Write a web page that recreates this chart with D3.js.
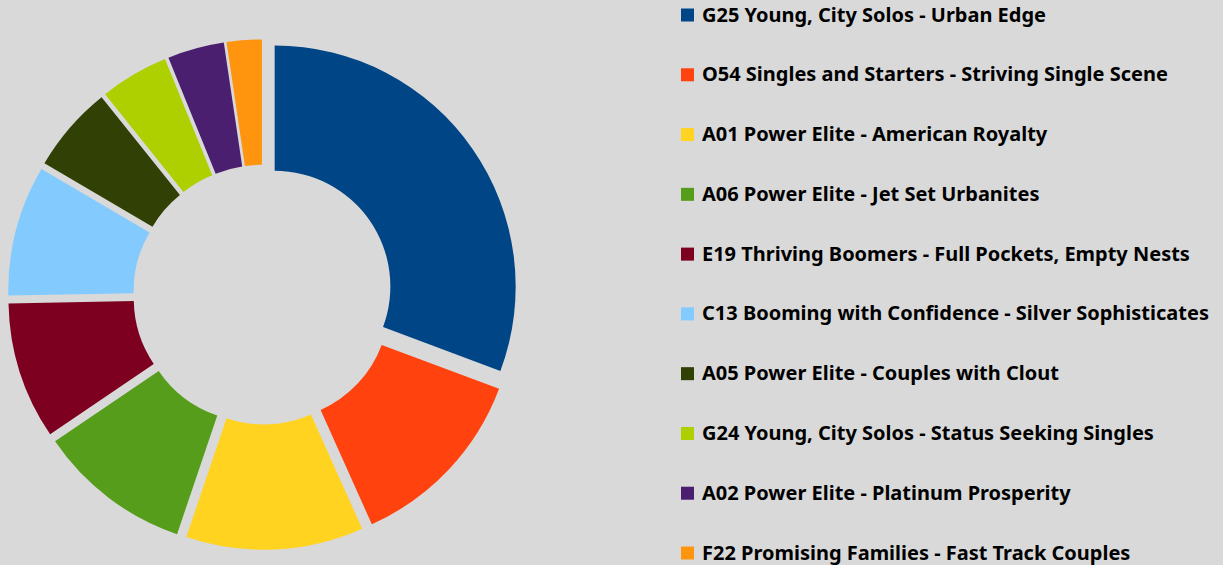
<!DOCTYPE html>
<html>
<head>
<meta charset="utf-8">
<script src="https://cdn.jsdelivr.net/npm/d3@7"></script>
<style>
  html, body { margin: 0; padding: 0; background: #d9d9d9; }
  svg { display: block; }
</style>
</head>
<body>
<svg id="chart" width="1223" height="565"></svg>
<script>
const categories = [
  "G25 Young, City Solos - Urban Edge",
  "O54 Singles and Starters - Striving Single Scene",
  "A01 Power Elite - American Royalty",
  "A06 Power Elite - Jet Set Urbanites",
  "E19 Thriving Boomers - Full Pockets, Empty Nests",
  "C13 Booming with Confidence - Silver Sophisticates",
  "A05 Power Elite - Couples with Clout",
  "G24 Young, City Solos - Status Seeking Singles",
  "A02 Power Elite - Platinum Prosperity",
  "F22 Promising Families - Fast Track Couples"
];
const values = [30.7, 12.6, 11.9, 10.3, 9.2, 8.75, 5.8, 4.6, 3.8, 2.35];
const colors = ["#004586", "#ff420e", "#ffd320", "#579d1c", "#7e0021",
                "#83caff", "#314004", "#aecf00", "#4b1f6f", "#ff950e"];

const svg = d3.select("#chart");
svg.append("rect").attr("width", 1223).attr("height", 565).attr("fill", "#d9d9d9");

const cx = 263, cy = 294.6, R = 241, r = 115.7, explode = 14.2;

const pie = d3.pie().sort(null).value(d => d)(values);
const arc = d3.arc().innerRadius(r).outerRadius(R);

const g = svg.append("g").attr("transform", `translate(${cx},${cy})`);
g.selectAll("path").data(pie).join("path")
  .attr("d", arc)
  .attr("fill", (d, i) => colors[i])
  .attr("transform", d => {
    const m = (d.startAngle + d.endAngle) / 2;
    return `translate(${explode * Math.sin(m)},${-explode * Math.cos(m)})`;
  });

// legend font: pick the installed font whose natural width is closest to the reference
const fontSize = 19.5, targetFirstWidth = 344;
const candidates = ["Open Sans", "Noto Sans", "Lato", "Roboto", "Liberation Sans"];
const probe = svg.append("text").attr("font-weight", "bold").attr("font-size", fontSize)
  .attr("x", -2000).attr("y", -2000).text(categories[0]);
let best = candidates[0], bestW = 0, bestDiff = Infinity;
candidates.forEach(f => {
  probe.attr("font-family", `'${f}'`);
  const w = probe.node().getComputedTextLength();
  if (Math.abs(w - targetFirstWidth) < bestDiff) { bestDiff = Math.abs(w - targetFirstWidth); best = f; bestW = w; }
});
probe.remove();
const stretch = targetFirstWidth / bestW;

const legend = svg.append("g");
const ly = d3.scalePoint().domain(d3.range(categories.length)).range([15, 553]);
const items = legend.selectAll("g").data(categories).join("g")
  .attr("transform", (d, i) => `translate(681,${ly(i)})`);
items.append("rect").attr("x", 0).attr("y", -6.5).attr("width", 13).attr("height", 13)
  .attr("fill", (d, i) => colors[i]);
items.append("text").attr("x", 21).attr("y", 6.5)
  .attr("font-family", `'${best}', sans-serif`)
  .attr("font-weight", "bold").attr("font-size", fontSize).attr("fill", "#000")
  .text(d => d)
  .each(function () {
    const w = this.getComputedTextLength();
    d3.select(this).attr("textLength", w * stretch).attr("lengthAdjust", "spacingAndGlyphs");
  });
</script>
</body>
</html>
